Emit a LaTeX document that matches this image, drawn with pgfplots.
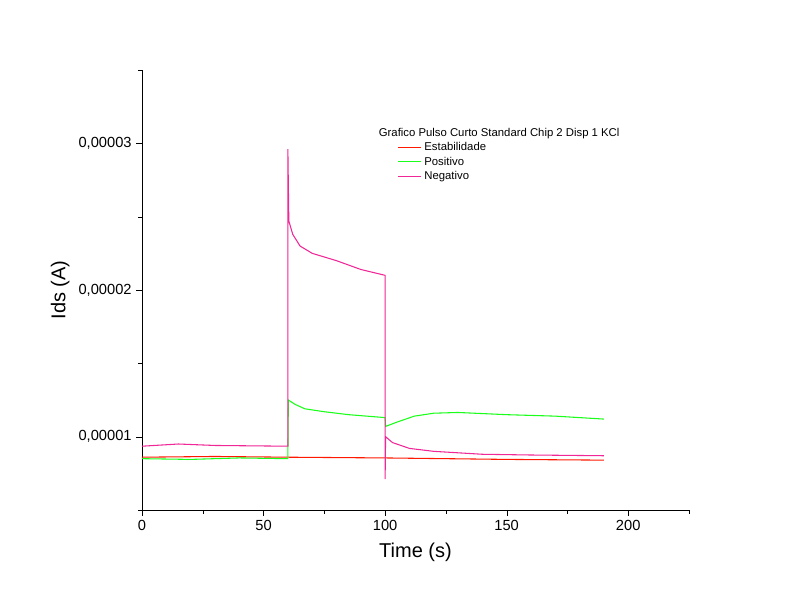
\documentclass[border=0pt]{standalone}
\usepackage{pgfplots}
\pgfplotsset{compat=1.18}
\usepackage{fontspec}
\setmainfont{Liberation Sans}
\begin{document}
\begin{tikzpicture}
\useasboundingbox (0pt,0pt) rectangle (600pt,459pt);
\begin{axis}[at={(106.5pt,76.5pt)},anchor=south west,scale only axis,
  width=410.25pt,height=330pt,
  xmin=0,xmax=225,ymin=0.5,ymax=3.5,
  axis x line*=bottom, axis y line*=left,
  tick align=outside, tick style={black}, axis line style={black},
  xtick={0,50,100,150,200}, minor xtick={25,75,125,175,225},
  ytick={1,2,3}, yticklabels={0{,}00001,0{,}00002,0{,}00003},
  minor ytick={0.5,1.5,2.5,3.5},
  /pgf/number format/assume math mode=true,
  ticklabel style={font=\fontsize{11}{13}\selectfont},
  xlabel={Time (s)}, ylabel={Ids (A)},
  label style={font=\fontsize{15}{18}\selectfont},
  xlabel style={yshift=-2pt},
  legend style={at={(0.46,0.88)},anchor=north west,draw=none,fill=none,
    font=\fontsize{8.5}{10}\selectfont,row sep=-1pt},
  legend cell align=left,
  legend style={legend columns=1},
]
\addlegendimage{empty legend}\addlegendentry{\hspace{-1.2cm}Grafico Pulso Curto Standard Chip 2 Disp 1 KCl}
\addplot[color=red!80!orange,thick] coordinates {(0,0.86)(30,0.865)(60,0.86)(100,0.855)(150,0.845)(190,0.84)};
\addlegendentry{Estabilidade}
\addplot[color=green!90!white,thick] coordinates {(0,0.85)(20,0.845)(40,0.855)(60,0.85)(60.2,1.25)(63,1.22)(67,1.19)(75,1.17)(85,1.15)(100,1.13)(100.2,1.07)(105,1.10)(112,1.14)(120,1.16)(130,1.165)(150,1.15)(170,1.14)(190,1.12)};
\addlegendentry{Positivo}
\addplot[color=magenta!80!pink,thick] coordinates {(0,0.935)(15,0.95)(30,0.94)(60,0.935)(60,2.96)(60.4,2.47)(62,2.38)(65,2.30)(70,2.25)(80,2.20)(90,2.14)(100,2.10)(100,0.71)(100.2,1.0)(103,0.96)(110,0.92)(120,0.90)(140,0.88)(160,0.875)(190,0.87)};
\addlegendentry{Negativo}
\end{axis}
\end{tikzpicture}
\end{document}
